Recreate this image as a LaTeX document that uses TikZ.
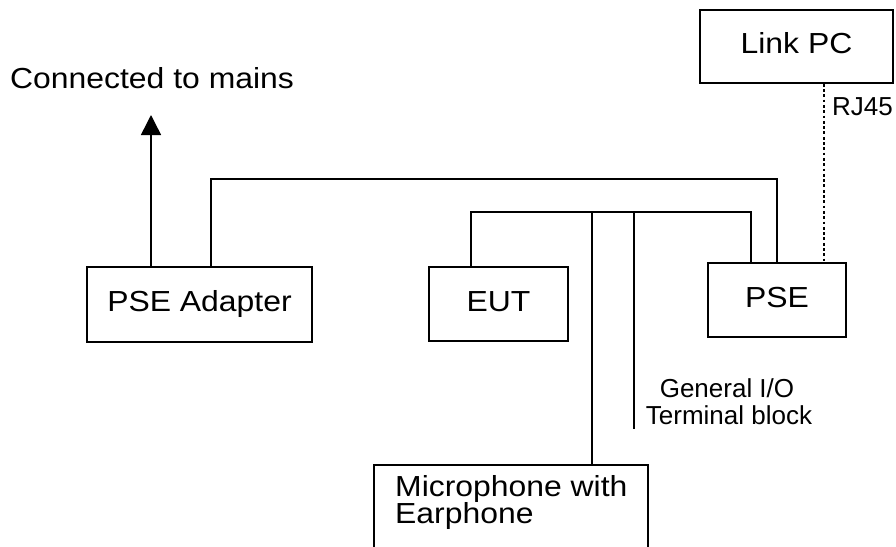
\documentclass[tikz,border=0pt]{standalone}
\usepackage{fontspec}
\setmainfont{Liberation Sans}
\newfontfamily\bigf[FakeStretch=1.1]{Liberation Sans}
\usetikzlibrary{arrows.meta}
\tikzset{
  wire/.style={line width=1.5pt},
  rj/.style={line width=2.6pt, dash pattern=on 2.8pt off 2.5pt},
  box/.style={draw, line width=1.5pt, rectangle, inner sep=0pt,
    font=\bigf\fontsize{29}{27}\selectfont, text height=21.75pt, text depth=7.25pt},
  bigtxt/.style={inner sep=0pt, font=\bigf\fontsize{29}{27}\selectfont},
  smalltxt/.style={inner sep=0pt, font=\fontsize{26}{27}\selectfont}
}
\begin{document}
\begin{tikzpicture}[x=1pt, y=-1pt]
\useasboundingbox (0,0) rectangle (896,546);
\clip (0,0) rectangle (896,546);
\fill[white] (0,0) rectangle (896,546);
% boxes
\node[box, minimum width=193pt, minimum height=73pt] (linkpc) at (796.5,46.5) {Link PC};
\node[box, minimum width=138pt, minimum height=74pt] (pse) at (777,300) {PSE};
\node[box, minimum width=139pt, minimum height=74pt] (eut) at (498.5,304) {EUT};
\node[box, minimum width=225pt, minimum height=75pt] (adapter) at (199.5,304.5) {PSE Adapter};
\node[box, minimum width=274pt, minimum height=130pt, anchor=north west] (mic) at (373,464) {};
% texts
\node[bigtxt, anchor=base west] (mictxt1) at (395,496) {Microphone with};
\node[bigtxt, anchor=base west] (mictxt2) at (395,523) {Earphone};
\node[bigtxt, anchor=base west] (mainstxt) at (10,88) {Connected to mains};
\node[smalltxt, anchor=base west] (rjtxt) at (832,115) {RJ45};
\node[smalltxt, anchor=base] (gio1) at (727,397) {General I/O};
\node[smalltxt, anchor=base] (gio2) at (729,424) {Terminal block};
% coordinates
\coordinate (mains) at (151,115);
\coordinate (b1) at (211,179);
\coordinate (b2) at (471,212);
\coordinate (j1) at (592,212);
\coordinate (j2) at (634,212);
\coordinate (tb) at (634,429);
\coordinate (d) at (824,0);
% connectors
\draw[wire, -{Triangle[length=20pt,width=20pt]}] (adapter.north -| mains) -- (mains);
\draw[wire] (adapter.north -| b1) -- (b1) -| (pse.north);
\draw[wire] (eut.north -| b2) -- (b2) -| ([xshift=-26pt]pse.north);
\draw[wire] (j1) -- (j1 |- mic.north);
\draw[wire] (j2) -- (tb);
\draw[rj] (linkpc.south -| d) -- (pse.north -| d);
\end{tikzpicture}
\end{document}
